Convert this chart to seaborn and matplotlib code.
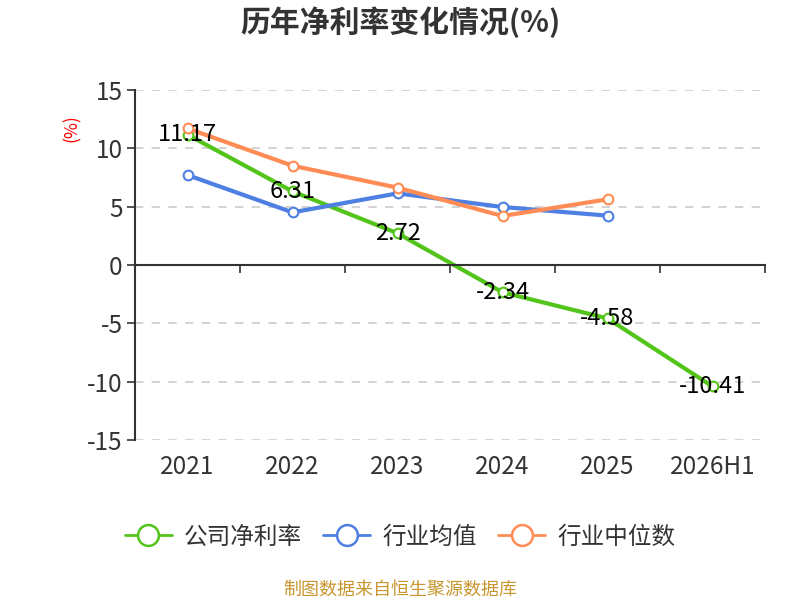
import pandas as pd
import numpy as np
import matplotlib
matplotlib.use("Agg")
import matplotlib.pyplot as plt
from matplotlib.lines import Line2D
import seaborn as sns

# data
years = ["2021", "2022", "2023", "2024", "2025", "2026H1"]
company = [11.17, 6.31, 2.72, -2.34, -4.58, -10.41]
ind_mean = [7.71, 4.51, 6.14, 4.97, 4.23, np.nan]
ind_median = [11.71, 8.51, 6.63, 4.20, 5.63, np.nan]
names = ["公司净利率", "行业均值", "行业中位数"]
colors = ["#52c41a", "#4e7fe2", "#ff8c55"]
y_ticks = [15, 10, 5, 0, -5, -10, -15]

sns.set_style("white")
plt.rcParams['font.family'] = ['Noto Sans CJK SC', 'DejaVu Sans']
plt.rcParams['axes.unicode_minus'] = False

df = pd.DataFrame({
    "year": years * 3,
    "value": company + ind_mean + ind_median,
    "series": [names[0]] * 6 + [names[1]] * 6 + [names[2]] * 6,
})
df = df.dropna()

fig = plt.figure(figsize=(8, 6), dpi=100)
ax = fig.add_axes([0.16875, 0.2667, 0.7875, 0.5833])

sns.lineplot(data=df, x="year", y="value", hue="series", palette=colors,
             hue_order=names, sort=False, linewidth=3, marker="o",
             markersize=7, markerfacecolor="white", markeredgewidth=1.5,
             legend=False, ax=ax)
# marker edge in line colour
for line in ax.get_lines():
    line.set_markeredgecolor(line.get_color())

# data labels for company
for i, v in enumerate(company):
    ax.text(i, v, f"{v:.2f}", ha="center", va="center", fontsize=17,
            color="black", zorder=5)

ax.set_xlim(-0.5, 5.5)
ax.set_ylim(-15, 15)
ax.set_yticks(y_ticks)
ax.tick_params(axis="y", left=True, labelsize=17.5, colors="#333333",
               length=6, width=1.2, pad=3)
ax.yaxis.grid(True, linestyle=(0, (5, 5)), color="#cccccc", linewidth=1.2)
ax.set_axisbelow(True)
for s in ["top", "right"]:
    ax.spines[s].set_visible(False)
ax.spines["left"].set_color("#333333")
ax.spines["left"].set_linewidth(1.5)
ax.spines["bottom"].set_position(("data", 0))
ax.spines["bottom"].set_color("#333333")
ax.spines["bottom"].set_linewidth(1.5)

# x ticks on zero line at category boundaries
ax.set_xticks(np.arange(-0.5, 6, 1))
ax.set_xticklabels([])
ax.tick_params(axis="x", bottom=True, length=6, width=1.2, colors="#333333")

# x labels at bottom
sec = ax.secondary_xaxis("bottom")
sec.set_xticks(range(len(years)))
sec.set_xticklabels(years)
sec.tick_params(length=0, labelsize=17.5, colors="#333333", pad=10)
sec.spines["bottom"].set_visible(False)

ax.set_xlabel("")
ax.set_ylabel("")
fig.text(0.09, 0.787, "(%)", color="red", fontsize=12.5, rotation=90,
         ha="center", va="center")

fig.text(0.5, 0.963, "历年净利率变化情况(%)", ha="center", va="center",
         fontsize=21.5, fontweight="bold", color="#333333")

handles = [Line2D([0], [0], color=c, linewidth=2, marker="o", markersize=15,
                  markerfacecolor="white", markeredgewidth=1.8, markeredgecolor=c)
           for c in colors]
fig.legend(handles, names, loc="center", bbox_to_anchor=(0.5, 0.105), ncol=3,
           frameon=False, fontsize=17, handlelength=2.0, columnspacing=0.9,
           handletextpad=0.5, labelcolor="#333333")

fig.text(0.5, 0.018, "制图数据来自恒生聚源数据库", ha="center", va="center",
         fontsize=13, color="#c8962e")

fig.savefig("out.png", dpi=100)
